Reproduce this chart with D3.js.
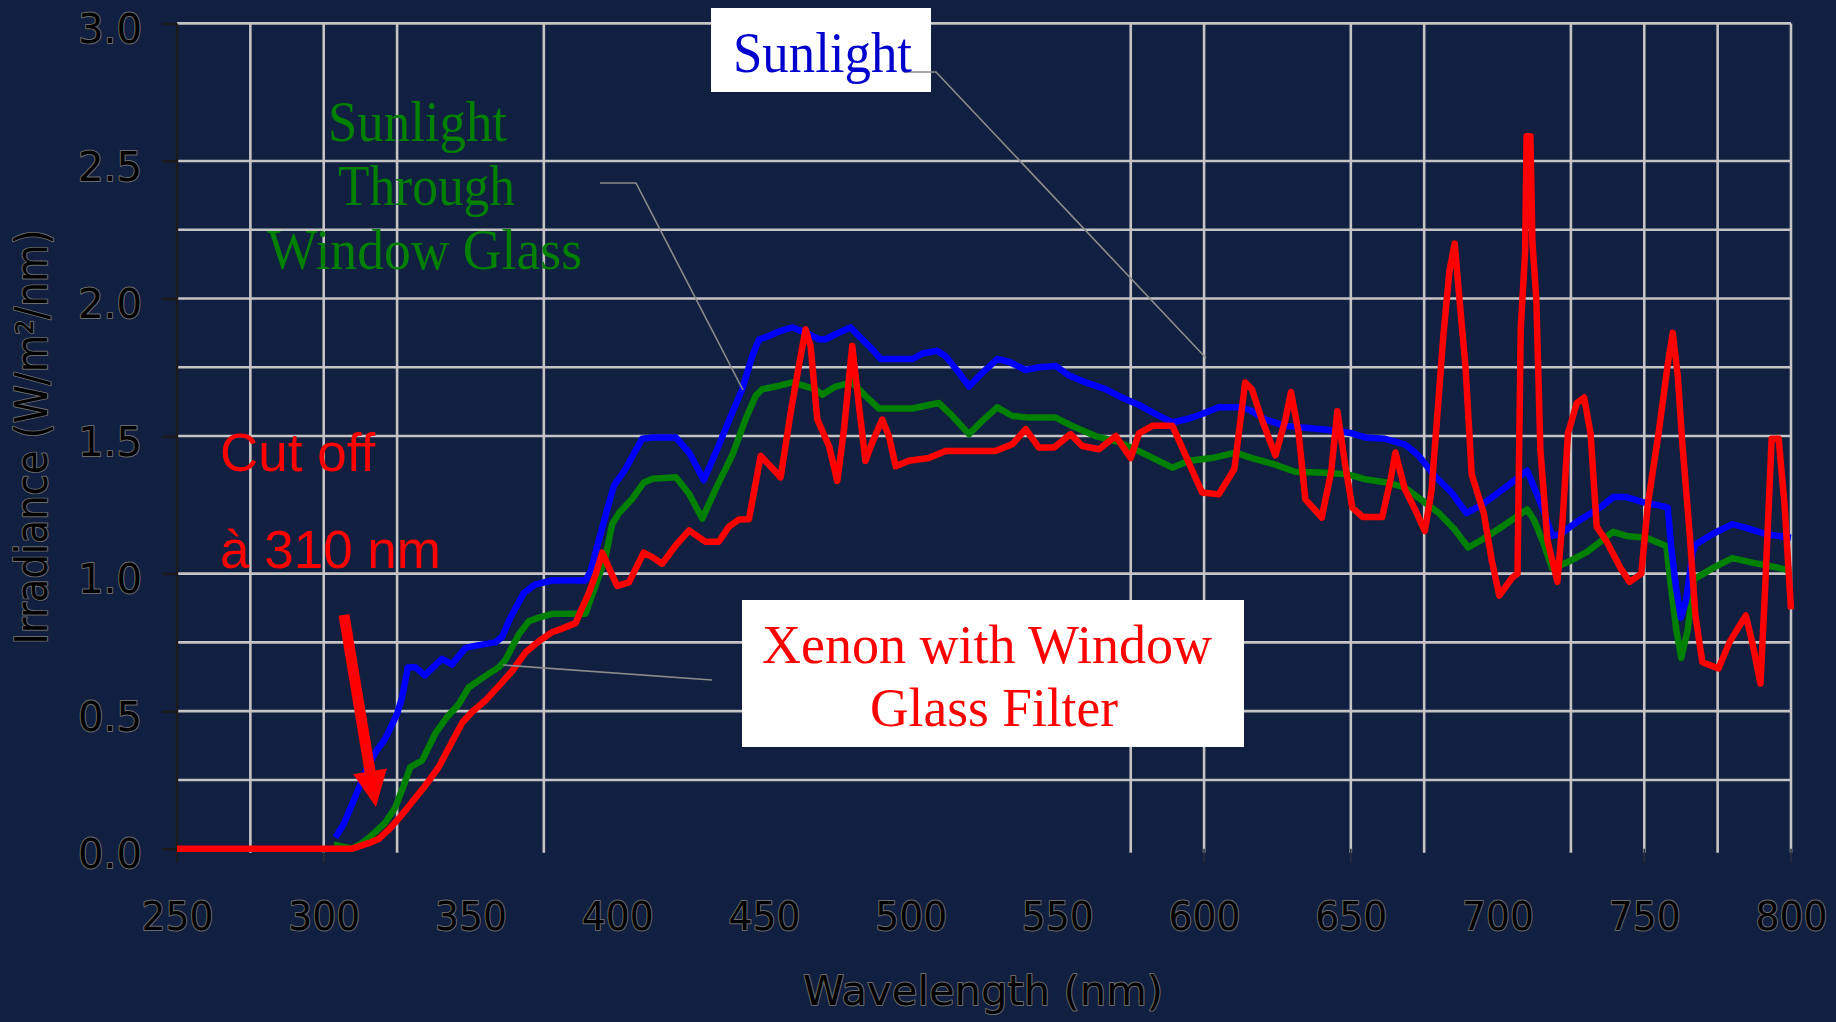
<!DOCTYPE html>
<html><head><meta charset="utf-8">
<script src="https://cdn.jsdelivr.net/npm/d3@7"></script>
<style>
html,body{margin:0;padding:0;background:#111f40;}
svg{display:block;}
</style></head><body>
<svg id="chart" width="1836" height="1022"></svg>
<script>
// ---------- data ----------
const xTicks = [250, 300, 350, 400, 450, 500, 550, 600, 650, 700, 750, 800];
const yTicks = [0, 0.5, 1.0, 1.5, 2.0, 2.5, 3.0];
const yTickLabels = ["0.0", "0.5", "1.0", "1.5", "2.0", "2.5", "3.0"];
const gridXValues = [275, 300, 325, 375, 575, 600, 650, 675, 725, 750, 775, 800];
const gridYValues = [0.25, 0.5, 0.75, 1.0, 1.5, 1.75, 2.0, 2.25, 2.5, 3.0];

const sunlightNm = [304, 306.8, 310.8, 314.2, 317.6, 321, 325, 326.7, 328.7, 331.2, 334.4, 340.3, 343.7, 348.3, 352.8, 358.5, 360.8, 363.6, 368.2, 372, 377.8, 389.2, 391, 393.2, 396, 398.9, 402.8, 408.5, 412, 420, 424.5, 429.5, 434, 439.2, 442.6, 446, 448.3, 451.7, 455.1, 459.7, 464.2, 468.7, 471, 474.4, 479.5, 483.5, 486.9, 489.8, 500.6, 504, 509, 511.9, 516.5, 519.9, 524.4, 529.5, 533.5, 539.2, 543.7, 549.4, 554, 559.7, 566.5, 571, 577.8, 583.5, 589.2, 593.7, 599.3, 605, 613, 616.3, 620.9, 627.7, 634.5, 644.6, 650.3, 654.8, 661.6, 668.4, 673, 678.6, 684.3, 689.4, 694.3, 701, 705.6, 710.1, 712.4, 715.8, 718.6, 721.4, 728.2, 735, 739.4, 743.9, 750.7, 755.2, 758, 759.2, 760.9, 762.5, 764.2, 766.5, 767.6, 773.3, 780, 784.5, 791.3, 800];
const sunlightVal = [0.04, 0.09, 0.19, 0.28, 0.35, 0.40, 0.49, 0.55, 0.66, 0.66, 0.63, 0.69, 0.67, 0.73, 0.74, 0.75, 0.77, 0.84, 0.93, 0.96, 0.975, 0.975, 1.01, 1.10, 1.21, 1.32, 1.38, 1.49, 1.495, 1.495, 1.44, 1.34, 1.45, 1.585, 1.67, 1.79, 1.85, 1.864, 1.88, 1.895, 1.876, 1.852, 1.852, 1.87, 1.895, 1.852, 1.816, 1.78, 1.78, 1.80, 1.81, 1.79, 1.73, 1.68, 1.73, 1.78, 1.77, 1.74, 1.75, 1.755, 1.72, 1.695, 1.67, 1.645, 1.613, 1.58, 1.55, 1.56, 1.58, 1.605, 1.605, 1.59, 1.56, 1.537, 1.53, 1.52, 1.51, 1.495, 1.49, 1.47, 1.43, 1.355, 1.295, 1.22, 1.248, 1.30, 1.337, 1.374, 1.315, 1.226, 1.137, 1.144, 1.196, 1.24, 1.278, 1.278, 1.256, 1.248, 1.24, 1.093, 0.944, 0.84, 0.9, 1.078, 1.107, 1.144, 1.18, 1.167, 1.144, 1.13];

const glassNm = [303.4, 309.7, 313, 316.5, 321, 324.4, 327.3, 329.5, 333.5, 338, 342, 346, 349.4, 354, 359.7, 361.9, 366.5, 369.9, 373.3, 377.8, 389.2, 392.6, 396, 398.3, 400.6, 405, 409, 412, 420, 424.5, 429, 434, 439.2, 443.7, 447.2, 449.4, 454, 459.7, 467.6, 469.9, 474.4, 480, 484.6, 489.2, 500.6, 505, 509.6, 514.2, 519.9, 524.4, 529.5, 534.7, 540.3, 549.4, 555, 563, 571, 577.8, 583.5, 589.2, 594.8, 602.7, 610.7, 616.3, 623.1, 631, 641.3, 649.2, 654.8, 662.8, 668.4, 673, 679.8, 685.4, 690, 694.5, 701, 710.1, 712.4, 715.8, 718.6, 723.6, 730.4, 739.4, 743.9, 750.7, 757.5, 759.2, 760.9, 762.6, 764.8, 767, 773.3, 780, 786.8, 793.5, 800];
const glassVal = [0.015, 0.0, 0.02, 0.05, 0.095, 0.15, 0.23, 0.297, 0.32, 0.418, 0.478, 0.525, 0.586, 0.62, 0.66, 0.686, 0.78, 0.827, 0.84, 0.854, 0.854, 0.955, 1.06, 1.18, 1.22, 1.27, 1.33, 1.345, 1.35, 1.29, 1.20, 1.317, 1.43, 1.56, 1.646, 1.67, 1.68, 1.695, 1.67, 1.65, 1.68, 1.695, 1.646, 1.6, 1.6, 1.61, 1.62, 1.573, 1.507, 1.555, 1.604, 1.573, 1.567, 1.567, 1.537, 1.5, 1.478, 1.445, 1.415, 1.385, 1.41, 1.42, 1.44, 1.42, 1.40, 1.37, 1.367, 1.36, 1.343, 1.33, 1.313, 1.276, 1.222, 1.16, 1.095, 1.122, 1.167, 1.233, 1.196, 1.107, 1.019, 1.04, 1.078, 1.152, 1.137, 1.13, 1.1, 0.944, 0.796, 0.693, 0.796, 0.98, 1.02, 1.056, 1.04, 1.026, 1.011];

const xenonNm = [250, 303.5, 309.7, 315.3, 318.7, 322.2, 325.6, 330.1, 334.7, 339.2, 343.2, 347.2, 350.6, 355.1, 359.7, 364.2, 368.7, 373.3, 377.8, 381.2, 385.8, 388, 390.3, 392.6, 394.9, 396, 398.3, 400, 404, 409, 412, 415.3, 420, 424.5, 430, 434.6, 438, 441.5, 444.9, 448.9, 455.7, 459.1, 461.9, 464.2, 465.9, 468.2, 472.2, 475, 477.3, 480.1, 482.4, 484.6, 486.9, 490.3, 492.6, 494.9, 499.4, 506.2, 511.9, 528.9, 534.6, 539.2, 543.7, 548.9, 554.5, 558.5, 564.2, 569.9, 575, 577.8, 582.4, 589.2, 593.7, 599.3, 605, 610.3, 614, 616.3, 619.7, 624.3, 627.7, 629.6, 632.2, 634.5, 640.1, 643.3, 645.4, 648, 650.5, 654, 660.7, 663.6, 665.2, 668.4, 671.8, 675.2, 677.5, 681.5, 683.6, 685.4, 687, 689.1, 691.2, 695.3, 698, 700.6, 704.9, 706.8, 707.9, 709.4, 709.9, 711.2, 711.9, 713.2, 714.6, 717, 720.4, 722.2, 724, 727, 729.5, 731.7, 733.8, 737, 741.9, 745, 749, 751.2, 755, 758, 759.7, 761.4, 763, 765.5, 767.4, 769.8, 775.3, 779, 784.6, 786.8, 789.6, 791.2, 793.4, 795.8, 797.8, 800];
const xenonVal = [0, 0, 0.0, 0.02, 0.035, 0.07, 0.11, 0.17, 0.23, 0.297, 0.378, 0.458, 0.498, 0.539, 0.592, 0.646, 0.713, 0.754, 0.787, 0.80, 0.82, 0.874, 0.928, 0.995, 1.076, 1.05, 0.995, 0.955, 0.968, 1.076, 1.06, 1.036, 1.103, 1.157, 1.116, 1.116, 1.17, 1.197, 1.198, 1.428, 1.35, 1.585, 1.755, 1.888, 1.828, 1.56, 1.464, 1.337, 1.525, 1.828, 1.61, 1.41, 1.476, 1.56, 1.50, 1.39, 1.41, 1.42, 1.446, 1.446, 1.47, 1.525, 1.458, 1.458, 1.507, 1.464, 1.452, 1.50, 1.42, 1.51, 1.537, 1.537, 1.43, 1.295, 1.288, 1.38, 1.695, 1.67, 1.56, 1.43, 1.56, 1.66, 1.513, 1.27, 1.204, 1.37, 1.59, 1.40, 1.24, 1.206, 1.206, 1.345, 1.44, 1.307, 1.235, 1.155, 1.30, 1.86, 2.1, 2.2, 2.0, 1.75, 1.36, 1.22, 1.05, 0.92, 0.984, 1.0, 1.89, 2.17, 2.59, 2.59, 2.2, 2.0, 1.45, 1.12, 0.97, 1.2, 1.51, 1.62, 1.64, 1.51, 1.17, 1.12, 1.02, 0.97, 1.0, 1.25, 1.52, 1.76, 1.875, 1.72, 1.47, 1.14, 0.85, 0.678, 0.655, 0.75, 0.848, 0.75, 0.6, 0.95, 1.49, 1.49, 1.25, 0.87];

// annotation arrow in data space: [nm, irradiance]
const arrowFrom = [306.9, 0.85];
const arrowTo = [317.8, 0.152];

// ---------- drawing ----------
const svg = d3.select("#chart");
const W = 1836, H = 1022;
const x = d3.scaleLinear().domain([250, 800]).range([177, 1791]);
const y = d3.scaleLinear().domain([0, 3]).range([848.7, 23.4]);

svg.append("rect").attr("width", W).attr("height", H).attr("fill", "#111f40");

const gridColor = "#c4c4c4";
svg.append("g").selectAll("line").data(gridYValues).join("line")
  .attr("x1", x(250)).attr("x2", x(800))
  .attr("y1", d => y(d)).attr("y2", d => y(d))
  .attr("stroke", gridColor).attr("stroke-width", 2.6);
svg.append("g").selectAll("line").data(gridXValues).join("line")
  .attr("x1", d => x(d)).attr("x2", d => x(d))
  .attr("y1", y(3)).attr("y2", y(0) + 4)
  .attr("stroke", gridColor).attr("stroke-width", 2.6);
svg.append("g").selectAll("line").data(xTicks.filter(t => t === 250 || gridXValues.includes(t))).join("line")
  .attr("x1", d => x(d)).attr("x2", d => x(d))
  .attr("y1", y(0)).attr("y2", y(0) + 14)
  .attr("stroke", "#2a2f3a").attr("stroke-width", 1.6);

const labelStyle = sel => sel
  .attr("fill", "#000").attr("stroke", "#6b6b6b").attr("stroke-width", 2)
  .attr("paint-order", "stroke").attr("stroke-linejoin", "round");

const yAxis = d3.axisLeft(y).tickValues(yTicks).tickSize(15).tickPadding(20)
  .tickFormat((d, i) => yTickLabels[i]);
const gy = svg.append("g").attr("transform", `translate(${x(250)},0)`).call(yAxis);
gy.select(".domain").attr("stroke", "#1b1b1b").attr("stroke-width", 2.4)
  .attr("d", `M0,${y(3)}V${y(0) + 14}`);
gy.selectAll(".tick line").attr("stroke", "#1b1b1b").attr("stroke-width", 2.4);
gy.selectAll(".tick text")
  .attr("font-family", "'DejaVu Sans', sans-serif").attr("font-size", 41)
  .attr("dy", "0.47em").attr("textLength", 64).attr("lengthAdjust", "spacingAndGlyphs")
  .call(labelStyle);

const xAxis = d3.axisBottom(x).tickValues(xTicks).tickSize(0).tickPadding(0)
  .tickFormat(d3.format("d"));
const gx = svg.append("g").attr("transform", `translate(0,${y(0)})`).call(xAxis);
gx.select(".domain").remove();
gx.selectAll(".tick text")
  .attr("font-family", "'DejaVu Sans', sans-serif").attr("font-size", 39)
  .attr("y", 81).attr("dy", 0)
  .attr("textLength", 72).attr("lengthAdjust", "spacingAndGlyphs")
  .call(labelStyle);

svg.append("text").text("Wavelength (nm)")
  .attr("x", 983).attr("y", 1005).attr("text-anchor", "middle")
  .attr("font-family", "'DejaVu Sans', sans-serif").attr("font-size", 41)
  .attr("textLength", 360).attr("lengthAdjust", "spacingAndGlyphs")
  .call(labelStyle);
svg.append("text").text("Irradiance (W/m²/nm)")
  .attr("transform", "translate(47,437) rotate(-90)").attr("text-anchor", "middle")
  .attr("font-family", "'DejaVu Sans', sans-serif").attr("font-size", 44)
  .attr("textLength", 415).attr("lengthAdjust", "spacingAndGlyphs")
  .call(labelStyle);

const line = d3.line().x(d => x(d[0])).y(d => y(d[1]));
const series = [
  {nm: glassNm, val: glassVal, color: "#008000"},
  {nm: sunlightNm, val: sunlightVal, color: "#0000ff"},
  {nm: xenonNm, val: xenonVal, color: "#ff0000"}
];
svg.append("g").selectAll("path").data(series).join("path")
  .attr("d", s => line(d3.zip(s.nm, s.val)))
  .attr("fill", "none").attr("stroke", s => s.color)
  .attr("stroke-width", 6.5).attr("stroke-linejoin", "round").attr("stroke-linecap", "butt");

svg.append("rect").attr("x", 711).attr("y", 8).attr("width", 220).attr("height", 84).attr("fill", "#fff");
svg.append("rect").attr("x", 742).attr("y", 600).attr("width", 502).attr("height", 147).attr("fill", "#fff");

const leaders = [
  [[904, 72], [936, 72], [1206, 358]],
  [[600, 183], [636, 183], [743, 390]],
  [[503, 665], [712, 680]]
];
svg.append("g").selectAll("path").data(leaders).join("path")
  .attr("d", d => d3.line()(d)).attr("fill", "none")
  .attr("stroke", "#8c8c8c").attr("stroke-width", 1.6);

const serif = "'Liberation Serif', 'Times New Roman', serif";
svg.append("text").text("Sunlight").attr("x", 733).attr("y", 72)
  .attr("font-family", serif).attr("font-size", 57).attr("fill", "#0000cc")
  .attr("textLength", 179).attr("lengthAdjust", "spacingAndGlyphs");

const greenLines = [["Sunlight", 328, 141, 179], ["Through", 338, 205, 177], ["Window Glass", 267, 269, 315]];
svg.append("g").selectAll("text").data(greenLines).join("text")
  .text(d => d[0]).attr("x", d => d[1]).attr("y", d => d[2])
  .attr("font-family", serif).attr("font-size", 56).attr("fill", "#008000")
  .attr("textLength", d => d[3]).attr("lengthAdjust", "spacingAndGlyphs");

const xenonLines = [["Xenon with Window", 762, 663, 450], ["Glass Filter", 870, 726, 248]];
svg.append("g").selectAll("text").data(xenonLines).join("text")
  .text(d => d[0]).attr("x", d => d[1]).attr("y", d => d[2])
  .attr("font-family", serif).attr("font-size", 55).attr("fill", "#ff0000")
  .attr("textLength", d => d[3]).attr("lengthAdjust", "spacingAndGlyphs");

const sans = "'Liberation Sans', Arial, sans-serif";
svg.append("text").text("Cut off").attr("x", 220).attr("y", 471)
  .attr("font-family", sans).attr("font-size", 53).attr("fill", "#ff0000");
svg.append("text").text("à 310 nm").attr("x", 220).attr("y", 568)
  .attr("font-family", sans).attr("font-size", 53).attr("fill", "#ff0000");

(function () {
  const x0 = x(arrowFrom[0]), y0 = y(arrowFrom[1]);
  const x1 = x(arrowTo[0]), y1 = y(arrowTo[1]);
  const dx = x1 - x0, dy = y1 - y0, L = Math.hypot(dx, dy);
  const ux = dx / L, uy = dy / L, px = -uy, py = ux;
  const sw = 5.5, hw = 17, hl = 36;
  const bx = x1 - ux * hl, by = y1 - uy * hl;
  const pts = [
    [x0 + px * sw, y0 + py * sw], [bx + px * sw, by + py * sw], [bx + px * hw, by + py * hw],
    [x1, y1], [bx - px * hw, by - py * hw], [bx - px * sw, by - py * sw], [x0 - px * sw, y0 - py * sw]
  ];
  svg.append("path").attr("d", d3.line()(pts) + "Z").attr("fill", "#ff0000");
})();
</script>
</body></html>
